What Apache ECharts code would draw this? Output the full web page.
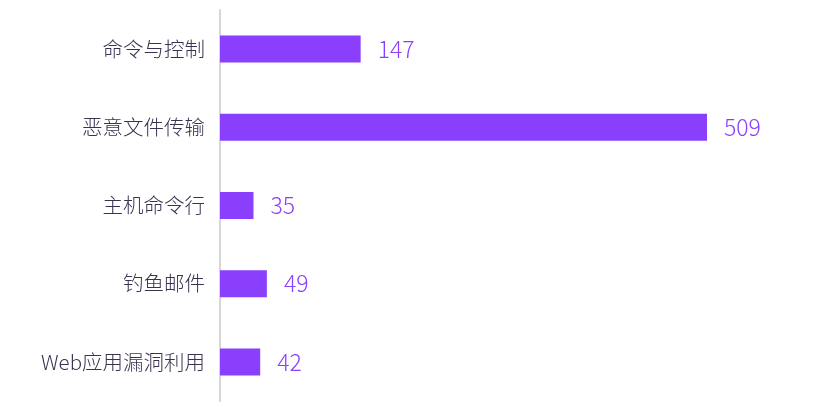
<!DOCTYPE html>
<html><head><meta charset="utf-8">
<script src="https://cdn.jsdelivr.net/npm/echarts@6/dist/echarts.min.js"></script>
<style>html,body{margin:0;padding:0;background:#fff}#c{width:832px;height:419px}</style>
</head><body><div id="c"></div>
<script>
const categories = ['命令与控制', '恶意文件传输', '主机命令行', '钓鱼邮件', 'Web应用漏洞利用'];
const values = [147, 509, 35, 49, 42];
const chart = echarts.init(document.getElementById('c'));
chart.setOption({
  animation: false,
  grid: { left: 220, right: 125, top: 10, bottom: 18 },
  xAxis: { type: 'value', min: 0, max: 509, show: false },
  yAxis: {
    type: 'category', data: categories, inverse: true,
    axisLine: { show: true, lineStyle: { color: '#d6d6d6', width: 2 } },
    axisTick: { show: false },
    axisLabel: { color: '#3b3150', fontSize: 20.5, margin: 15, fontFamily: 'Noto Sans CJK SC', fontWeight: 300 }
  },
  series: [{
    type: 'bar', data: values, barWidth: 27,
    itemStyle: { color: '#8a3ffc' },
    label: { show: true, position: 'right', distance: 17, color: '#8a3ffc', fontSize: 23, fontFamily: 'Noto Sans CJK SC', fontWeight: 300 }
  }]
});
</script></body></html>
